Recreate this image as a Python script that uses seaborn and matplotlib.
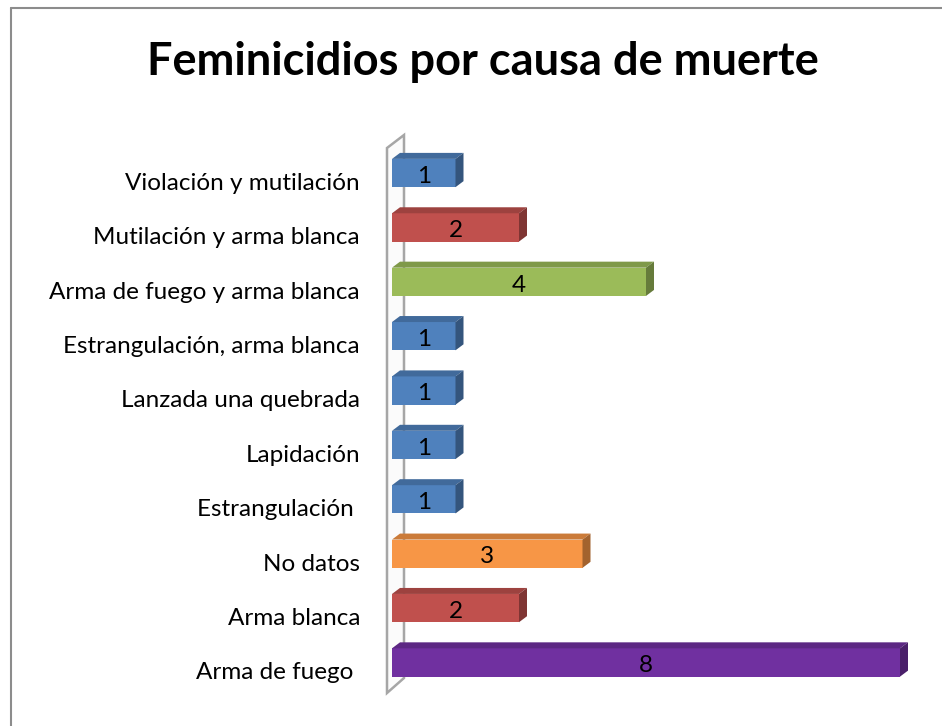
import matplotlib
matplotlib.use("Agg")
import matplotlib.pyplot as plt
import matplotlib.colors as mcolors
import matplotlib.transforms as mtransforms
from matplotlib.patches import Polygon
import seaborn as sns
import pandas as pd

categories = [
    "Violación y mutilación",
    "Mutilación y arma blanca",
    "Arma de fuego y arma blanca",
    "Estrangulación, arma blanca",
    "Lanzada una quebrada",
    "Lapidación",
    "Estrangulación ",
    "No datos",
    "Arma blanca",
    "Arma de fuego ",
]
values = [1, 2, 4, 1, 1, 1, 1, 3, 2, 8]
colors = ["#4F81BD", "#C0504D", "#9BBB59", "#4F81BD", "#4F81BD",
          "#4F81BD", "#4F81BD", "#F79646", "#C0504D", "#7030A0"]
title = "Feminicidios por causa de muerte"

sns.set_style("white")
plt.rcParams["font.family"] = ["Lato", "DejaVu Sans"]

df = pd.DataFrame({"cat": categories, "val": values})

fig = plt.figure(figsize=(9.42, 7.26), dpi=100)
W, H = 942, 726
ax_left, ax_right = 392, 912.7
ax_top, ax_bot = 140.4, 695.1
ax = fig.add_axes([ax_left / W, 1 - ax_bot / H, (ax_right - ax_left) / W, (ax_bot - ax_top) / H])

sns.barplot(data=df, x="val", y="cat", hue="cat", palette=colors, legend=False,
            orient="h", width=0.52, saturation=1, ax=ax, zorder=3, linewidth=0)
ax.set_xlim(0, 8.2)
ax.set_ylim(9.6, -0.6)
for s in ax.spines.values():
    s.set_visible(False)
ax.set_xticks([])
ax.set_xlabel("")
ax.set_ylabel("")
ax.tick_params(axis="y", length=0, pad=23, labelsize=17.5, labelcolor="black")
offset = mtransforms.ScaledTranslation(0, -6 / 72, fig.dpi_scale_trans)
for lab in ax.get_yticklabels():
    lab.set_transform(lab.get_transform() + offset)

# pixel-per-unit scales
ppx = (ax_right - ax_left) / 8.2
ppy = (ax_bot - ax_top) / 10.2
dx = 8 / ppx
dy = 6 / ppy

# 3D wall at left (axes-relative pixel offsets)
def axpt(px, py):
    return ((px - ax_left) / (ax_right - ax_left), 1 - (py - ax_top) / (ax_bot - ax_top))

wall = [axpt(387, 148), axpt(404, 135), axpt(404, 678), axpt(387, 693)]
ax.add_patch(Polygon(wall, closed=True, transform=ax.transAxes, facecolor="#FBFBFB",
                     edgecolor="#A6A6A6", linewidth=1.8, clip_on=False, zorder=1))

def shade(c, f):
    r, g, b = mcolors.to_rgb(c)
    return (r * f, g * f, b * f)

for patch, c, v in zip(ax.patches, colors, values):
    x0 = patch.get_x()
    w = patch.get_width()
    y0 = patch.get_y()
    h = patch.get_height()
    ytop = y0  # inverted axis: y0 is visually top
    top = [(x0, ytop), (x0 + w, ytop), (x0 + w + dx, ytop - dy), (x0 + dx, ytop - dy)]
    side = [(x0 + w, ytop), (x0 + w + dx, ytop - dy), (x0 + w + dx, ytop + h - dy), (x0 + w, ytop + h)]
    ax.add_patch(Polygon(top, closed=True, facecolor=shade(c, 0.82), edgecolor="none",
                         zorder=3, clip_on=False))
    ax.add_patch(Polygon(side, closed=True, facecolor=shade(c, 0.66), edgecolor="none",
                         zorder=3, clip_on=False))
    ax.text(x0 + w / 2, y0 + h / 2 + 0.06, str(v), ha="center", va="center",
            fontsize=17.5, color="black", zorder=5)

fig.text(483 / W, 1 - 62 / H, title, ha="center", va="center", fontsize=32.5,
         fontweight="bold", color="black")

# chart border (top and left)
fig.add_artist(plt.Line2D([11 / W, 1], [1 - 8 / H, 1 - 8 / H], color="#8C8C8C", lw=1.5,
                          transform=fig.transFigure))
fig.add_artist(plt.Line2D([11 / W, 11 / W], [1 - 8 / H, 0], color="#8C8C8C", lw=1.5,
                          transform=fig.transFigure))

fig.savefig("out.png", dpi=100)
